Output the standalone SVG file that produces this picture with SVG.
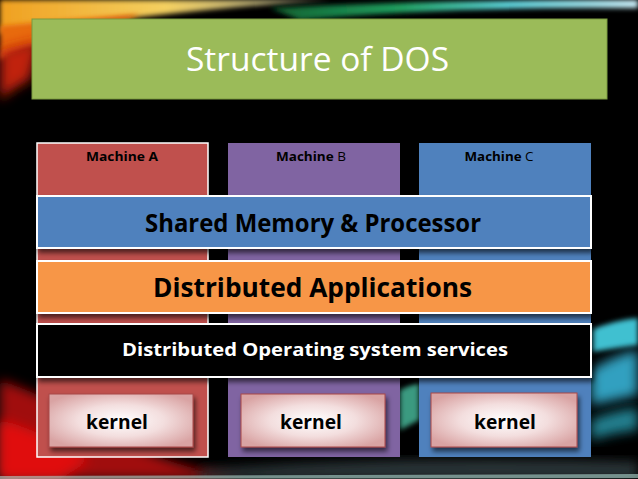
<svg xmlns="http://www.w3.org/2000/svg" width="638" height="479" viewBox="0 0 638 479">
<defs>
<style>
.t{font-family:"Open Sans","Noto Sans","Liberation Sans",sans-serif;font-weight:bold;text-anchor:middle}
.bar{stroke:#fff;stroke-width:2}
.col{stroke:none}
</style>
<filter id="blur" x="-20%" y="-20%" width="140%" height="140%"><feGaussianBlur stdDeviation="6"/></filter>
<filter id="blur2" x="-20%" y="-20%" width="140%" height="140%"><feGaussianBlur stdDeviation="2.5"/></filter>
<filter id="sh" x="-10%" y="-20%" width="130%" height="160%"><feDropShadow dx="2" dy="4" stdDeviation="2.5" flood-color="#000" flood-opacity="0.6"/></filter>
<linearGradient id="tl" x1="0" y1="0" x2="1" y2="0">
<stop offset="0" stop-color="#f0a020"/><stop offset="0.5" stop-color="#f4d060"/><stop offset="1" stop-color="#e8e8c0" stop-opacity="0.6"/>
</linearGradient>
<linearGradient id="tr" x1="0" y1="0" x2="1" y2="0">
<stop offset="0" stop-color="#106030"/><stop offset="0.35" stop-color="#20a060"/><stop offset="0.65" stop-color="#60d8e0"/><stop offset="1" stop-color="#d0f4ff"/>
</linearGradient>
<radialGradient id="kg" cx="0.5" cy="0.5" r="0.6">
<stop offset="0" stop-color="#ffffff"/><stop offset="0.5" stop-color="#f3dede"/><stop offset="1" stop-color="#d9a3a3"/>
</radialGradient>
</defs>
<rect width="638" height="479" fill="#000"/>
<g id="background">
<path d="M0,0 L330,0 Q200,8 0,34 Z" fill="url(#tl)" filter="url(#blur2)"/>
<path d="M0,26 Q60,20 140,14 L120,24 Q40,40 0,60 Z" fill="#e86a10" filter="url(#blur2)"/>
<path d="M0,50 Q20,45 40,40 L30,80 Q10,90 0,100 Z" fill="#c02008" filter="url(#blur)"/>
<path d="M270,8 Q420,0 638,0 L638,8 Q450,6 300,20 Z" fill="url(#tr)" filter="url(#blur2)"/>
<path d="M0,380 Q60,400 120,440 Q180,470 250,479 L0,479 Z" fill="#a00808" filter="url(#blur)"/>
<path d="M0,420 Q40,430 90,460 L60,479 L0,479 Z" fill="#e01010" filter="url(#blur)"/>
<path d="M591,330 Q615,320 638,318 L638,345 Q615,348 591,352 Z" fill="#40c0d0" filter="url(#blur2)"/>
<path d="M591,370 Q615,355 638,350 L638,395 Q615,400 591,405 Z" fill="#30a0c0" filter="url(#blur)"/>
<path d="M591,420 Q615,410 638,408 L638,430 Q615,432 591,440 Z" fill="#208090" filter="url(#blur)"/>
<path d="M400,390 Q410,385 419,383 L419,420 Q410,425 400,430 Z" fill="#3a9a80" filter="url(#blur2)"/>
<path d="M200,470 Q400,455 638,462 L638,479 L200,479 Z" fill="#2a3438" filter="url(#blur)"/>
<path d="M0,476 L638,474 L638,478 L0,479 Z" fill="#b0d8d0" opacity="0.6"/>
</g>
<g id="title">
<rect x="32" y="19" width="575" height="80" fill="#9bbb59" stroke="#7a9a40" stroke-width="1"/>
<text x="317.5" y="71" font-family="Open Sans,Noto Sans,Liberation Sans,sans-serif" font-size="33" fill="#fff" text-anchor="middle" textLength="263" lengthAdjust="spacingAndGlyphs">Structure of DOS</text>
</g>
<g id="machine-a">
<rect x="37" y="143" width="171" height="314" fill="#c0504d" stroke="#fff" stroke-width="1.5"/>
<text class="t" x="122" y="161" font-size="12" fill="#000" textLength="72" lengthAdjust="spacingAndGlyphs">Machine A</text>
</g>
<g id="machine-b">
<rect x="228" y="143" width="172" height="314" fill="#8064a2"/>
<text class="t" x="311" y="161" font-size="12" fill="#000" textLength="70" lengthAdjust="spacingAndGlyphs">Machine <tspan font-weight="normal">B</tspan></text>
</g>
<g id="machine-c">
<rect x="419" y="143" width="172" height="314" fill="#4f81bd"/>
<text class="t" x="499" y="161" font-size="12" fill="#000" textLength="69" lengthAdjust="spacingAndGlyphs">Machine <tspan font-weight="normal">C</tspan></text>
</g>
<g id="shared-memory">
<rect class="bar" x="37" y="196" width="554" height="52" fill="#4f81bd" filter="url(#sh)"/>
<text class="t" x="313" y="232" font-size="25" fill="#000" textLength="336" lengthAdjust="spacingAndGlyphs">Shared Memory &amp; Processor</text>
</g>
<g id="distributed-applications">
<rect class="bar" x="37" y="261" width="554" height="52" fill="#f79646" filter="url(#sh)"/>
<text class="t" x="312.5" y="297" font-size="27" fill="#000" textLength="319" lengthAdjust="spacingAndGlyphs">Distributed Applications</text>
</g>
<g id="distributed-os-services">
<rect class="bar" x="37" y="324" width="554" height="53" fill="#000" filter="url(#sh)"/>
<text class="t" x="315" y="356" font-size="17.5" fill="#fff" textLength="386" lengthAdjust="spacingAndGlyphs">Distributed Operating system services</text>
</g>
<g id="kernel-a">
<rect x="49" y="394" width="144" height="53" fill="url(#kg)" stroke="#a84848" stroke-width="1" filter="url(#sh)"/>
<text class="t" x="117" y="429" font-size="20" fill="#000" textLength="62" lengthAdjust="spacingAndGlyphs">kernel</text>
</g>
<g id="kernel-b">
<rect x="241" y="394" width="144" height="53" fill="url(#kg)" stroke="#a84848" stroke-width="1" filter="url(#sh)"/>
<text class="t" x="311" y="429" font-size="20" fill="#000" textLength="62" lengthAdjust="spacingAndGlyphs">kernel</text>
</g>
<g id="kernel-c">
<rect x="431" y="393" width="146" height="54" fill="url(#kg)" stroke="#a84848" stroke-width="1" filter="url(#sh)"/>
<text class="t" x="505" y="429" font-size="20" fill="#000" textLength="62" lengthAdjust="spacingAndGlyphs">kernel</text>
</g>
<g id="connectors"/>
</svg>
